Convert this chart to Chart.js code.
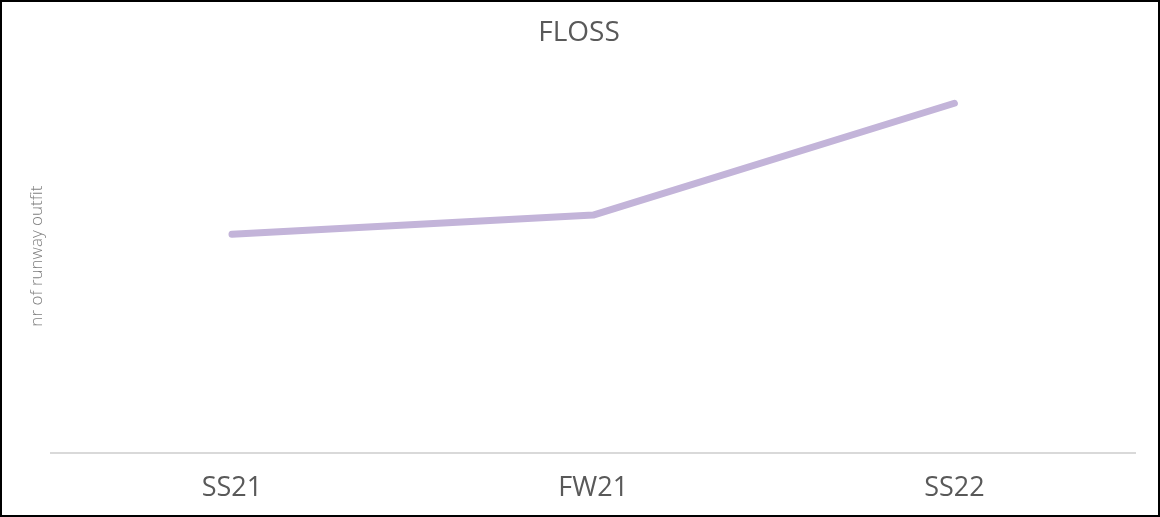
<!DOCTYPE html>
<html>
<head>
<meta charset="utf-8">
<script src="https://cdn.jsdelivr.net/npm/chart.js@4/dist/chart.umd.min.js"></script>
<style>
  body { margin: 0; background: #fff; }
  #wrap { width: 1160px; height: 517px; box-sizing: border-box; border: 2px solid #000; position: relative; overflow: hidden; }
  #chart { display: block; }
</style>
</head>
<body>
<div id="wrap"><canvas id="chart" width="1156" height="513"></canvas></div>
<script>
// chart data
const seasons = ['SS21', 'FW21', 'SS22'];
const outfits = [12.5, 13.6, 20];

const grey = '#595959';
const font = "'Open Sans', 'Noto Sans', sans-serif";

const ctx = document.getElementById('chart').getContext('2d');
new Chart(ctx, {
  type: 'line',
  data: {
    labels: seasons,
    datasets: [{
      label: 'FLOSS',
      data: outfits,
      borderColor: '#c3b4d9',
      borderWidth: 7,
      borderCapStyle: 'round',
      borderJoinStyle: 'round',
      pointRadius: 0,
      tension: 0,
      clip: false
    }]
  },
  options: {
    responsive: false,
    animation: false,
    layout: { padding: { top: 0, left: 21, right: 23, bottom: -10 } },
    plugins: {
      legend: { display: false },
      tooltip: { enabled: false },
      title: {
        display: true,
        text: 'FLOSS',
        color: grey,
        font: { family: font, size: 28, weight: 'normal' },
        padding: { top: 14, bottom: 10 }
      }
    },
    scales: {
      x: {
        offset: true,
        grid: { display: false, drawTicks: false },
        border: { display: true, color: '#d9d9d9', width: 2 },
        ticks: { color: grey, padding: 20, font: { family: font, size: 27 } }
      },
      y: {
        min: 0,
        max: 22.5,
        grid: { display: false, drawTicks: false },
        border: { display: false },
        ticks: { display: false },
        title: {
          display: true,
          text: 'nr of runway outfit',
          color: '#7f7f7f',
          font: { family: font, size: 17, weight: 300 },
          padding: { top: 4, bottom: 4 }
        }
      }
    }
  }
});
</script>
</body>
</html>
